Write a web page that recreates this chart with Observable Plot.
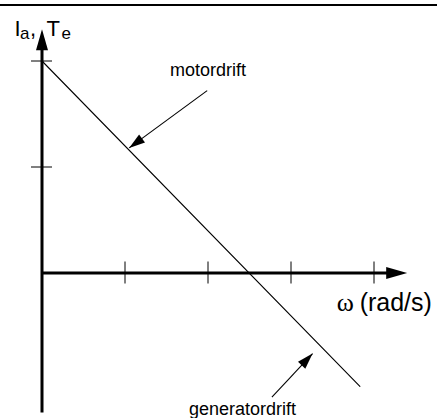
<!DOCTYPE html>
<html>
<head>
<meta charset="utf-8">
<script src="https://cdn.jsdelivr.net/npm/d3@7"></script>
<script src="https://cdn.jsdelivr.net/npm/@observablehq/plot@0.6"></script>
<style>
  html, body { margin: 0; padding: 0; background: #fff; }
  #chart { position: relative; width: 437px; height: 418px; overflow: hidden; }
  #chart svg { position: absolute; left: 0; top: 0; }
  #topline { position: absolute; left: 0; top: 4px; width: 437px; height: 2px; background: #000; z-index: 1; }
</style>
</head>
<body>
<div id="chart"><div id="topline"></div></div>
<script>
// Armature current / electromagnetic torque as a function of speed
const omega = [0, 3.83];          // speed (scale units)
const torque = [2, -1.07];        // Ia, Te at those speeds
const xTicks = [1, 2, 3, 4];
const yTicks = [1, 2];
const axisOmega = [0, 4.4];       // horizontal axis extent (arrow tip at end)
const axisTorque = [-1.32, 2.30]; // vertical axis extent (arrow tip at end)

// annotation arrows: [omega, torque] of tail and tip
const motorFrom = [1.99, 1.72],  motorTo = [1.05, 1.18];
const genFrom   = [2.77, -1.17], genTo   = [3.26, -0.76];

const motorLabel = "motordrift";
const genLabel = "generatordrift";
const motorLabelPos = [2.0, 1.855];
const genLabelPos = [2.415, -1.335];
const omegaSymbol = "ω";
const omegaUnit = "(rad/s)";
const omegaLabelPos = [3.55, -0.36];
const yLabelParts = ["I", "a", ",", "T", "e"];
const yLabelSub = [false, true, false, false, true];
const yLabelDx = [-27.5, -22, -12, 4.5, 19.5];

const xOpts = {domain: [0, 4.8], range: [41.5, 41.5 + 4.8 * 83]};
const yOpts = {domain: [-1.4, 2.5], range: [272.5 + 1.4 * 106, 272.5 - 2.5 * 106]};
const xs = Plot.scale({x: xOpts});
const ys = Plot.scale({y: yOpts});

// filled triangular arrowhead with its tip at the origin
function head(angle, len, half) {
  const c = Math.cos(angle), s = Math.sin(angle);
  return {
    draw(ctx) {
      ctx.moveTo(0, 0);
      ctx.lineTo(-len * c + half * s, -len * s - half * c);
      ctx.lineTo(-len * c - half * s, -len * s + half * c);
      ctx.closePath();
    }
  };
}
const pxAngle = (a, b) => Math.atan2(ys.apply(b[1]) - ys.apply(a[1]), xs.apply(b[0]) - xs.apply(a[0]));

const axisHeadLen = 21, axisHeadHalf = 6;
const noteHeadLen = 16, noteHeadHalf = 5;

// axis shafts stop where the heads begin
const yShaftEnd = ys.invert(ys.apply(axisTorque[1]) + axisHeadLen - 2);
const xShaftEnd = xs.invert(xs.apply(axisOmega[1]) - axisHeadLen + 2);

const font = "'Liberation Sans', Arial, Helvetica, sans-serif";
const serif = "'Liberation Serif', 'Times New Roman', serif";

const line = omega.map((w, i) => ({w, t: torque[i]}));
const notes = [
  {x1: motorFrom[0], y1: motorFrom[1], x2: motorTo[0], y2: motorTo[1]},
  {x1: genFrom[0], y1: genFrom[1], x2: genTo[0], y2: genTo[1]}
];

// y-axis label: I_a , T_e
const yLabelMarks = yLabelParts.map((p, i) => {
  const sub = yLabelSub[i];
  return Plot.text([p], {
    x: 0, y: 2.235, text: d => d, dx: yLabelDx[i], dy: sub ? 3 : 0,
    textAnchor: "start", lineAnchor: "bottom",
    fontFamily: font, fontSize: sub ? 17 : 22, fill: "#000"
  });
});

const plot = Plot.plot({
  width: 437,
  height: 418,
  margin: 0,
  x: {...xOpts, axis: null},
  y: {...yOpts, axis: null},
  style: {background: "transparent", overflow: "visible"},
  marks: [
    // ticks
    Plot.ruleY(yTicks, {x1: 0, x2: 0, insetLeft: -10.5, insetRight: -10.5, stroke: "#000", strokeWidth: 1}),
    Plot.ruleX(xTicks, {y1: 0, y2: 0, insetTop: -11, insetBottom: -11, stroke: "#000", strokeWidth: 1}),
    // axes
    Plot.ruleX([0], {y1: axisTorque[0], y2: yShaftEnd, stroke: "#000", strokeWidth: 3}),
    Plot.ruleY([0], {x1: axisOmega[0], x2: xShaftEnd, stroke: "#000", strokeWidth: 3}),
    Plot.dot([0], {x: 0, y: axisTorque[1], symbol: head(-Math.PI / 2, axisHeadLen, axisHeadHalf), fill: "#000", stroke: null, r: 5}),
    Plot.dot([0], {x: axisOmega[1], y: 0, symbol: head(0, axisHeadLen, axisHeadHalf), fill: "#000", stroke: null, r: 5}),
    // characteristic
    Plot.line(line, {x: "w", y: "t", stroke: "#000", strokeWidth: 1.1}),
    // annotations
    Plot.link(notes, {x1: "x1", y1: "y1", x2: "x2", y2: "y2", stroke: "#000", strokeWidth: 1.1}),
    Plot.dot([0], {x: motorTo[0], y: motorTo[1], symbol: head(pxAngle(motorFrom, motorTo), noteHeadLen, noteHeadHalf), fill: "#000", stroke: null, r: 5}),
    Plot.dot([0], {x: genTo[0], y: genTo[1], symbol: head(pxAngle(genFrom, genTo), noteHeadLen, noteHeadHalf), fill: "#000", stroke: null, r: 5}),
    Plot.text([motorLabel], {x: motorLabelPos[0], y: motorLabelPos[1], text: d => d, textAnchor: "middle", lineAnchor: "bottom", fontFamily: font, fontSize: 18, fill: "#000"}),
    Plot.text([genLabel], {x: genLabelPos[0], y: genLabelPos[1], text: d => d, textAnchor: "middle", lineAnchor: "bottom", fontFamily: font, fontSize: 18, fill: "#000"}),
    Plot.text([omegaSymbol], {x: omegaLabelPos[0], y: omegaLabelPos[1], text: d => d, textAnchor: "start", lineAnchor: "bottom", fontFamily: serif, fontSize: 26, fill: "#000"}),
    Plot.text([omegaUnit], {x: omegaLabelPos[0], y: omegaLabelPos[1], dx: 23, text: d => d, textAnchor: "start", lineAnchor: "bottom", fontFamily: font, fontSize: 25, fill: "#000"}),
    ...yLabelMarks
  ]
});

document.getElementById("chart").appendChild(plot);
</script>
</body>
</html>
